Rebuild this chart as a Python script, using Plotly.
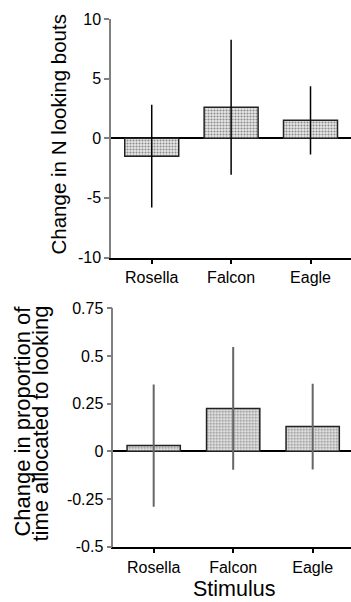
import plotly.graph_objects as go

stimuli = ["Rosella", "Falcon", "Eagle"]
bouts_mean = [-1.5, 2.6, 1.5]
bouts_err = [4.3, 5.67, 2.87]
prop_mean = [0.03, 0.225, 0.13]
prop_err = [0.32, 0.322, 0.225]

top_ticks = [10, 5, 0, -5, -10]
top_ticktext = ["10", "5", "0", "-5", "-10"]
bot_ticks = [0.75, 0.5, 0.25, 0, -0.25, -0.5]
bot_ticktext = ["0.75", "0.5", "0.25", "0", "-0.25", "-0.5"]

W, H = 351, 602
FONT = "Liberation Sans, Arial, sans-serif"

pattern = dict(shape=".", fgcolor="#8c8c8c", bgcolor="#e8e8e8", size=3, solidity=0.4)

fig = go.Figure()
fig.add_trace(go.Bar(
    x=stimuli, y=bouts_mean, width=0.68,
    marker=dict(color="#e8e8e8", pattern=pattern, line=dict(color="#222", width=1.5)),
    error_y=dict(type="data", array=bouts_err, visible=True, width=0, thickness=1.5, color="#000"),
    xaxis="x", yaxis="y", showlegend=False, hoverinfo="skip"))
fig.add_trace(go.Bar(
    x=stimuli, y=prop_mean, width=0.67,
    marker=dict(color="#e8e8e8", pattern=pattern, line=dict(color="#222", width=1.5)),
    error_y=dict(type="data", array=prop_err, visible=True, width=0, thickness=2, color="#666"),
    xaxis="x2", yaxis="y2", showlegend=False, hoverinfo="skip"))

def px_x(p):
    return p / W

def px_y(p):
    return 1 - p / H

xcommon = dict(showline=True, linecolor="#000", linewidth=1.5, ticks="outside", ticklen=5,
               tickwidth=1.5, tickcolor="#000", showgrid=False, zeroline=False, automargin=False,
               tickfont=dict(family=FONT, size=16, color="#000"), fixedrange=True)
ycommon = dict(showline=True, linecolor="#808080", linewidth=1.5, ticks="outside", ticklen=5,
               tickwidth=1.5, tickcolor="#808080", showgrid=False, zeroline=True, automargin=False,
               zerolinecolor="#000", zerolinewidth=1.5,
               tickfont=dict(family=FONT, size=16, color="#000"), fixedrange=True)

fig.update_layout(
    template="none",
    width=W, height=H,
    margin=dict(l=0, r=0, t=0, b=0, pad=0, autoexpand=False),
    paper_bgcolor="white", plot_bgcolor="white",
    font=dict(family=FONT, color="#000"),
    bargap=0.3,
    xaxis=dict(domain=[px_x(111), 1], range=[-0.513, 2.51], anchor="y", **xcommon),
    yaxis=dict(domain=[px_y(257.5), px_y(19)], range=[-10, 10], anchor="x",
               tickvals=top_ticks, ticktext=top_ticktext, **ycommon),
    xaxis2=dict(domain=[px_x(113.3), 1], range=[-0.508, 2.482], anchor="y2", **xcommon),
    yaxis2=dict(domain=[px_y(546.7), px_y(308.3)], range=[-0.5, 0.75], anchor="x2",
                tickvals=bot_ticks, ticktext=bot_ticktext, **ycommon),
    annotations=[
        dict(text="Change in N looking bouts", x=px_x(58.5), y=px_y(135), xref="paper", yref="paper",
             textangle=-90, showarrow=False, xanchor="center", yanchor="middle",
             font=dict(family=FONT, size=20.5, color="#000")),
        dict(text="Change in proportion of", x=px_x(21.6), y=px_y(421), xref="paper", yref="paper",
             textangle=-90, showarrow=False, xanchor="center", yanchor="middle",
             font=dict(family=FONT, size=22, color="#000")),
        dict(text="time allocated to looking", x=px_x(40.6), y=px_y(424), xref="paper", yref="paper",
             textangle=-90, showarrow=False, xanchor="center", yanchor="middle",
             font=dict(family=FONT, size=22, color="#000")),
        dict(text="Stimulus", x=px_x(234), y=0.0005, xref="paper", yref="paper",
             showarrow=False, xanchor="center", yanchor="bottom", borderpad=0,
             font=dict(family=FONT, size=21.5, color="#000")),
    ],
)

post = (
    "var h=document.documentElement,b=document.body;"
    "[h,b].forEach(function(e){e.style.margin='0';e.style.padding='0';"
    "e.style.overflow='hidden';});"
    "window.scrollTo(0,0);"
)

fig.write_html("out.html", post_script=post, config={"displayModeBar": False})
